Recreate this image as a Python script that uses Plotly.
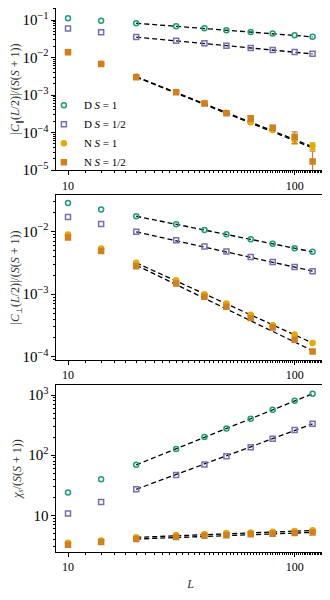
import plotly.graph_objects as go
from plotly.subplots import make_subplots

# system sizes
L = [10, 14, 20, 30, 40, 50, 64, 80, 100, 120]

# |C_par(L/2)| / (S(S+1))
cpar_d1 = [0.111, 0.096, 0.082, 0.068, 0.060, 0.053, 0.048, 0.0434, 0.039, 0.036]
cpar_dh = [0.059, 0.047, 0.035, 0.028, 0.024, 0.0207, 0.018, 0.0159, 0.014, 0.0127]
cpar_n1 = [0.0140, 0.0068, 0.0031, 0.00120, 6.1e-4, 3.4e-4, 1.9e-4, 1.17e-4, 6.3e-5, 4.4e-5]
cpar_nh = [0.0138, 0.0067, 0.0030, 0.00118, 6.0e-4, 3.3e-4, 2.4e-4, 1.35e-4, 7.8e-5, 1.7e-5]
cpar_n1_err = [0, 0, 0, 0, 0, 0.1e-4, 0.2e-4, 0.1e-4, 1.3e-5, 0.9e-5]
cpar_nh_err = [0, 0, 0, 0, 0, 0.2e-4, 0.4e-4, 0.2e-4, 2.7e-5, 1.5e-5]

# |C_perp(L/2)| / (S(S+1))
cperp_d1 = [0.0286, 0.0224, 0.0175, 0.0131, 0.0106, 0.00906, 0.00753, 0.00635, 0.00542, 0.00473]
cperp_dh = [0.0171, 0.0132, 0.00986, 0.00726, 0.00575, 0.00479, 0.00393, 0.00327, 0.00272, 0.00233]
cperp_n1 = [0.00895, 0.00536, 0.00316, 0.00167, 0.00100, 0.00071, 0.000468, 0.00032, 0.000227, 0.000166]
cperp_nh = [0.0080, 0.0049, 0.0028, 0.00148, 0.00091, 0.00063, 0.000415, 0.000295, 0.000187, 0.000122]

# chi_s / (S(S+1))
chi_d1 = [23.9, 39.8, 69, 127, 200, 278, 403, 570, 805, 1050]
chi_dh = [10.7, 16.7, 27.1, 47, 70, 96, 136, 187, 261, 332]
chi_n1 = [3.5, 3.83, 4.3, 4.7, 4.89, 5.08, 5.2, 5.35, 5.48, 5.62]
chi_nh = [3.25, 3.6, 4.03, 4.35, 4.58, 4.64, 4.82, 4.95, 5.08, 5.2]

# power-law fits, drawn between the fit range end points
fit_L = [20, 120]
fit_cpar = [[0.082, 0.0355], [0.035, 0.0125], [0.0031, 4.2e-5], [0.0030, 3.9e-5]]
fit_cperp = [[0.0175, 0.00473], [0.00986, 0.00233], [0.00316, 0.000166], [0.0029, 0.000125]]
fit_chi = [[69, 1050], [27.1, 332], [4.3, 5.6], [4.03, 5.2]]

names = ['D <i>S</i> = 1', 'D <i>S</i> = 1/2', 'N <i>S</i> = 1', 'N <i>S</i> = 1/2']
colors = ['#1b9e77', '#7570b3', '#e6ab02', '#d0801e']
symbols = ['circle-open', 'square-open', 'circle', 'square']

FONT = 'Liberation Serif'

fig = make_subplots(rows=3, cols=1, vertical_spacing=0.05)

panels = [
    ([cpar_d1, cpar_dh, cpar_n1, cpar_nh], [None, None, cpar_n1_err, cpar_nh_err], fit_cpar),
    ([cperp_d1, cperp_dh, cperp_n1, cperp_nh], [None] * 4, fit_cperp),
    ([chi_d1, chi_dh, chi_n1, chi_nh], [None] * 4, fit_chi),
]

for row, (series, errs, fits) in enumerate(panels, start=1):
    for fit in fits:
        fig.add_trace(go.Scatter(x=fit_L, y=fit, mode='lines', showlegend=False,
                                 line=dict(color='black', width=1.3, dash='5px,3px')),
                      row=row, col=1)
    for i, ys in enumerate(series):
        err = errs[i]
        fig.add_trace(go.Scatter(
            x=L, y=ys, mode='markers', name=names[i], showlegend=(row == 1),
            marker=dict(symbol=symbols[i], color=colors[i], size=5,
                        line=dict(color=colors[i], width=1.5)),
            error_y=dict(type='data', array=err, visible=err is not None,
                         color=colors[i], thickness=1.2, width=3),
        ), row=row, col=1)

ranges = [[-5, -0.68], [-4.05, -1.42], [0.39, 3.167]]
titles = ['|<i>C</i><sub>∥</sub>(<i>L</i>/2)|/(<i>S</i>(<i>S</i> + 1))',
          '|<i>C</i><sub>⊥</sub>(<i>L</i>/2)|/(<i>S</i>(<i>S</i> + 1))',
          '<i>χ<sub>s</sub></i>/(<i>S</i>(<i>S</i> + 1))']
domains = [[0.702, 1.0], [0.353, 0.656], [0.0, 0.307]]

axis_style = dict(type='log', showgrid=False, zeroline=False, showline=True, mirror=True,
                  linecolor='black', linewidth=1, ticks='outside', ticklen=4,
                  tickcolor='black', automargin=False,
                  tickfont=dict(family=FONT, size=12, color='black'),
                  minor=dict(ticks='outside', ticklen=2, tickcolor='black'))

for row in range(1, 4):
    fig.update_xaxes(axis_style, range=[0.947, 2.134], tickvals=[10, 100],
                     ticktext=['10', '100'], row=row, col=1)
    fig.update_yaxes(axis_style, range=ranges[row - 1], dtick=1, exponentformat='power',
                     domain=domains[row - 1],
                     title=dict(text=titles[row - 1], standoff=4,
                                font=dict(family=FONT, size=12, color='#333333')),
                     row=row, col=1)

fig.update_xaxes(title=dict(text='<i>L</i>', standoff=6,
                            font=dict(family=FONT, size=12, color='#333333')), row=3, col=1)

# the page body adds an 8px offset, so the figure is sized to fit the window
fig.update_layout(
    width=322, height=584,
    margin=dict(l=48, r=5, t=0, b=40),
    plot_bgcolor='white', paper_bgcolor='white',
    font=dict(family=FONT, size=12, color='black'),
    legend=dict(x=-0.045, y=0.69, xanchor='left', yanchor='bottom',
                bgcolor='rgba(0,0,0,0)', font=dict(family=FONT, size=11),
                tracegroupgap=0, itemwidth=30),
)

fig.write_html("out.html")
